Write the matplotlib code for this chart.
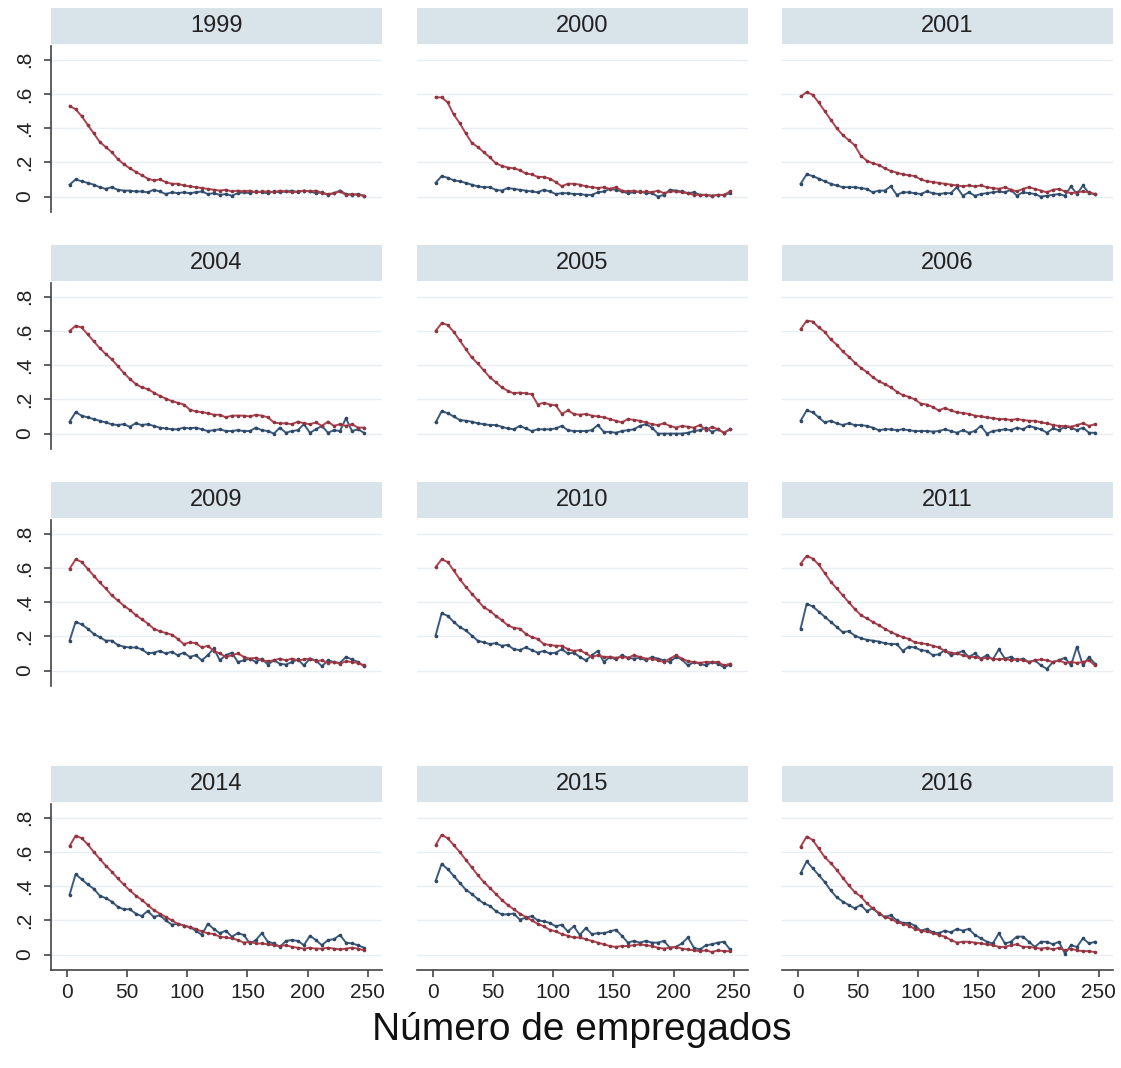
import numpy as np
import matplotlib.pyplot as plt

plt.rcParams['font.family'] = ['Liberation Sans', 'DejaVu Sans']

# bin midpoints (number of employees)
employees = np.arange(2, 250, 5)

years = ['1999', '2000', '2001', '2004', '2005', '2006',
         '2009', '2010', '2011', '2014', '2015', '2016']

red_1999 = [.53, .51, .47, .42, .37, .32, .29, .26, .22, .19, .165, .145, .125, .105, .095, .10, .085, .075, .075, .065,
            .06, .055, .05, .045, .04, .035, .04, .03, .035, .03, .035, .025, .03, .03, .025, .035, .03, .025, .03, .035,
            .03, .035, .02, .015, .02, .03, .01, .015, .01, .005]
blue_1999 = [.07, .10, .09, .08, .07, .055, .045, .055, .04, .035, .035, .03, .03, .025, .04, .03, .015, .025, .02, .025,
             .02, .025, .03, .015, .02, .01, .015, .005, .02, .025, .02, .03, .025, .02, .03, .025, .03, .035, .025, .035,
             .03, .02, .025, .01, .02, .035, .015, .01, .015, .005]

red_2000 = [.58, .58, .55, .48, .43, .37, .315, .29, .26, .23, .195, .18, .17, .165, .155, .135, .13, .115, .115, .105,
            .085, .06, .075, .075, .07, .06, .055, .05, .055, .045, .055, .035, .03, .035, .025, .03, .025, .035, .02, .03,
            .03, .025, .02, .01, .01, .01, .005, .01, .01, .03]
blue_2000 = [.08, .12, .11, .095, .09, .08, .07, .06, .055, .055, .04, .035, .05, .045, .04, .035, .03, .025, .04, .03,
             .015, .02, .02, .015, .015, .01, .01, .025, .03, .045, .04, .03, .02, .025, .03, .02, .02, .0, .01, .04,
             .035, .03, .02, .025, .01, .01, .005, .01, .01, .02]

red_2001 = [.585, .61, .595, .55, .50, .45, .40, .36, .33, .30, .24, .21, .195, .185, .165, .15, .14, .13, .125, .12,
            .10, .09, .085, .08, .075, .07, .065, .06, .065, .06, .065, .055, .05, .045, .055, .04, .03, .045, .055, .045,
            .035, .025, .04, .045, .03, .02, .025, .03, .025, .015]
blue_2001 = [.075, .13, .12, .105, .09, .075, .065, .055, .055, .055, .05, .045, .025, .035, .035, .06, .01, .025, .025, .02,
             .015, .03, .02, .015, .02, .02, .055, .005, .025, .005, .015, .02, .025, .03, .025, .04, .005, .025, .02, .015,
             .0, .005, .01, .015, .005, .06, .015, .065, .02, .015]

red_2004 = [.60, .63, .62, .58, .54, .50, .465, .435, .395, .355, .32, .29, .27, .26, .24, .22, .205, .19, .18, .17,
            .14, .13, .125, .12, .11, .11, .095, .105, .105, .105, .10, .11, .105, .095, .065, .06, .06, .055, .07, .06,
            .055, .065, .045, .07, .045, .055, .045, .055, .035, .035]
blue_2004 = [.07, .125, .105, .095, .085, .075, .065, .055, .05, .055, .04, .06, .05, .055, .045, .035, .03, .025, .025, .035,
             .03, .035, .025, .015, .02, .025, .015, .015, .02, .015, .015, .035, .02, .015, .0, .035, .005, .015, .02, .055,
             .005, .025, .045, .005, .02, .015, .09, .015, .025, .005]

red_2005 = [.60, .645, .635, .595, .545, .495, .445, .41, .37, .33, .30, .27, .25, .235, .24, .235, .23, .17, .18, .17,
            .165, .115, .135, .115, .11, .115, .105, .10, .095, .085, .075, .065, .085, .08, .075, .065, .055, .05, .06, .045,
            .035, .045, .04, .035, .05, .02, .04, .025, .005, .025]
blue_2005 = [.065, .13, .12, .10, .08, .075, .07, .06, .055, .05, .05, .04, .03, .025, .045, .03, .015, .025, .025, .025,
             .03, .045, .02, .015, .015, .015, .02, .05, .01, .01, .005, .015, .02, .025, .045, .055, .035, .0, .0, .0,
             .0, .0, .005, .015, .02, .035, .01, .025, .005, .025]

red_2006 = [.61, .66, .655, .62, .595, .55, .52, .48, .45, .415, .385, .36, .33, .305, .29, .27, .245, .225, .215, .20,
            .175, .17, .155, .135, .15, .135, .125, .12, .115, .105, .10, .095, .09, .085, .085, .08, .085, .08, .075, .075,
            .065, .06, .05, .045, .045, .04, .05, .06, .045, .055]
blue_2006 = [.075, .135, .125, .095, .065, .075, .06, .05, .06, .05, .05, .045, .035, .02, .025, .025, .02, .025, .02, .015,
             .015, .015, .012, .015, .025, .015, .005, .02, .005, .015, .045, .0, .015, .02, .025, .02, .035, .025, .045, .035,
             .025, .005, .03, .02, .04, .035, .02, .035, .005, .005]

red_2009 = [.595, .65, .635, .595, .555, .515, .48, .44, .41, .38, .355, .325, .30, .275, .245, .23, .22, .21, .185, .155,
            .165, .16, .135, .145, .115, .10, .08, .09, .10, .08, .07, .075, .06, .055, .06, .07, .06, .07, .06, .065,
            .07, .055, .06, .045, .05, .04, .055, .05, .045, .03]
blue_2009 = [.175, .285, .27, .245, .215, .195, .175, .175, .15, .14, .135, .135, .125, .10, .105, .115, .10, .11, .09, .105,
             .08, .09, .06, .09, .13, .06, .09, .105, .05, .06, .07, .05, .07, .035, .06, .04, .035, .05, .065, .03,
             .07, .06, .025, .06, .05, .045, .08, .065, .05, .025]

red_2010 = [.605, .65, .635, .585, .535, .49, .45, .41, .37, .35, .32, .295, .265, .25, .245, .215, .195, .185, .155, .15,
            .145, .145, .125, .115, .12, .10, .08, .09, .08, .08, .075, .08, .075, .09, .08, .07, .07, .06, .05, .07,
            .09, .07, .055, .05, .045, .05, .05, .05, .03, .04]
blue_2010 = [.205, .335, .32, .285, .255, .235, .205, .175, .165, .155, .16, .145, .15, .125, .12, .135, .12, .105, .115, .10,
             .105, .125, .10, .105, .08, .06, .09, .115, .05, .08, .065, .09, .075, .07, .075, .06, .08, .07, .06, .05,
             .08, .065, .03, .05, .04, .03, .05, .04, .02, .035]

red_2011 = [.625, .67, .655, .62, .57, .52, .48, .44, .40, .36, .325, .305, .285, .265, .245, .225, .21, .195, .185, .165,
            .16, .155, .145, .135, .115, .105, .10, .09, .08, .08, .07, .075, .07, .065, .07, .06, .065, .06, .05, .06,
            .065, .06, .05, .06, .045, .05, .045, .05, .06, .03]
blue_2011 = [.245, .39, .375, .345, .315, .285, .255, .225, .23, .205, .19, .18, .175, .17, .16, .155, .155, .115, .14, .135,
             .12, .115, .09, .095, .12, .09, .10, .115, .08, .10, .07, .09, .065, .125, .07, .08, .06, .07, .05, .06,
             .03, .01, .05, .06, .075, .03, .14, .03, .08, .04]

red_2014 = [.635, .695, .68, .645, .60, .56, .52, .485, .445, .41, .375, .345, .32, .29, .26, .24, .22, .20, .18, .17,
            .16, .15, .135, .125, .12, .105, .10, .095, .085, .07, .075, .065, .065, .06, .055, .05, .055, .045, .04, .035,
            .04, .035, .035, .04, .035, .03, .035, .04, .035, .025]
blue_2014 = [.35, .47, .44, .41, .385, .345, .33, .31, .28, .265, .265, .24, .225, .255, .22, .23, .20, .175, .18, .17,
             .16, .14, .115, .18, .15, .125, .14, .105, .125, .115, .065, .085, .125, .075, .065, .045, .08, .085, .08, .055,
             .11, .085, .055, .085, .09, .115, .07, .065, .055, .04]

red_2015 = [.64, .70, .68, .64, .60, .555, .51, .465, .425, .39, .355, .32, .29, .265, .24, .22, .20, .18, .165, .145,
            .135, .12, .11, .10, .10, .09, .08, .07, .06, .05, .045, .05, .05, .055, .06, .055, .05, .04, .035, .04,
            .045, .035, .03, .025, .02, .025, .015, .025, .02, .02]
blue_2015 = [.43, .53, .50, .46, .42, .38, .355, .325, .30, .285, .255, .235, .235, .24, .205, .215, .225, .20, .195, .185,
             .165, .175, .135, .165, .115, .155, .12, .125, .125, .135, .145, .11, .07, .08, .07, .08, .07, .07, .08, .04,
             .045, .065, .10, .04, .03, .055, .06, .07, .075, .03]

red_2016 = [.63, .69, .67, .62, .57, .535, .495, .45, .405, .365, .34, .30, .27, .245, .22, .21, .19, .18, .17, .15,
            .14, .135, .125, .115, .105, .085, .07, .075, .075, .07, .065, .06, .055, .045, .045, .055, .06, .045, .045, .04,
            .035, .04, .03, .04, .025, .035, .025, .02, .02, .015]
blue_2016 = [.475, .545, .505, .465, .425, .375, .335, .31, .29, .27, .29, .255, .27, .24, .22, .23, .20, .185, .185, .17,
             .14, .15, .13, .125, .14, .13, .15, .14, .15, .115, .095, .075, .065, .125, .065, .075, .105, .105, .075, .045,
             .075, .075, .06, .075, .005, .055, .045, .095, .065, .075]

red_series = [red_1999, red_2000, red_2001, red_2004, red_2005, red_2006,
              red_2009, red_2010, red_2011, red_2014, red_2015, red_2016]
blue_series = [blue_1999, blue_2000, blue_2001, blue_2004, blue_2005, blue_2006,
               blue_2009, blue_2010, blue_2011, blue_2014, blue_2015, blue_2016]

yticks = [0, .2, .4, .6, .8]
ytick_labels = ['0', '.2', '.4', '.6', '.8']
xticks = [0, 50, 100, 150, 200, 250]

RED = '#b0434f'
BLUE = '#3b5b80'
STRIP = '#d9e3ea'
GRID = '#e8eef2'
AXIS = '#444444'

W, H = 1121, 1068
fig = plt.figure(figsize=(W / 100, H / 100), dpi=100)
fig.patch.set_facecolor('white')


def px_axes(x, y, w, h):
    return fig.add_axes([x / W, 1 - (y + h) / H, w / W, h / H])


col_x = [51, 417, 782]
row_top = [8, 245, 482, 766]
pw, strip_h, ph = 331, 36, 166

for k, year in enumerate(years):
    r, c = divmod(k, 3)
    x0, y0 = col_x[c], row_top[r]

    head = px_axes(x0, y0, pw, strip_h)
    head.set_facecolor(STRIP)
    head.set_xticks([])
    head.set_yticks([])
    for s in head.spines.values():
        s.set_visible(False)
    head.text(0.5, 0.5, year, ha='center', va='center', fontsize=17, color='#222222')

    ax = px_axes(x0, y0 + strip_h + 2, pw, ph)
    ax.plot(employees, blue_series[k], color=BLUE, lw=1.4, marker='o', ms=2.6,
            markerfacecolor='#2e4864', markeredgewidth=0, zorder=3)
    ax.plot(employees, red_series[k], color=RED, lw=1.4, marker='o', ms=2.6,
            markerfacecolor='#8c3440', markeredgewidth=0, zorder=4)
    ax.set_xlim(-13.5, 262)
    ax.set_ylim(-0.09, 0.88)
    ax.set_yticks(yticks)
    ax.set_yticklabels(ytick_labels, rotation=90, va='center')
    ax.set_xticks(xticks)
    ax.yaxis.grid(True, color=GRID, lw=1.0)
    ax.set_axisbelow(True)
    for side in ['top', 'right']:
        ax.spines[side].set_visible(False)
    ax.spines['left'].set_color(AXIS)
    ax.spines['bottom'].set_color(AXIS)
    ax.spines['left'].set_linewidth(1.2)
    ax.spines['bottom'].set_linewidth(1.2)
    ax.tick_params(axis='both', colors=AXIS, labelcolor='#222222', labelsize=15,
                   length=5, width=1.2)
    ax.tick_params(axis='y', pad=7)
    ax.tick_params(axis='x', pad=4)
    if c != 0:
        ax.spines['left'].set_visible(False)
        ax.tick_params(axis='y', left=False, labelleft=False)
    if r != 3:
        ax.spines['bottom'].set_visible(False)
        ax.tick_params(axis='x', bottom=False, labelbottom=False)

fig.text(582 / W, 1 - 1030 / H, 'Número de empregados', ha='center', va='center',
         fontsize=28, color='#111111')

fig.savefig('out.png', dpi=100)
